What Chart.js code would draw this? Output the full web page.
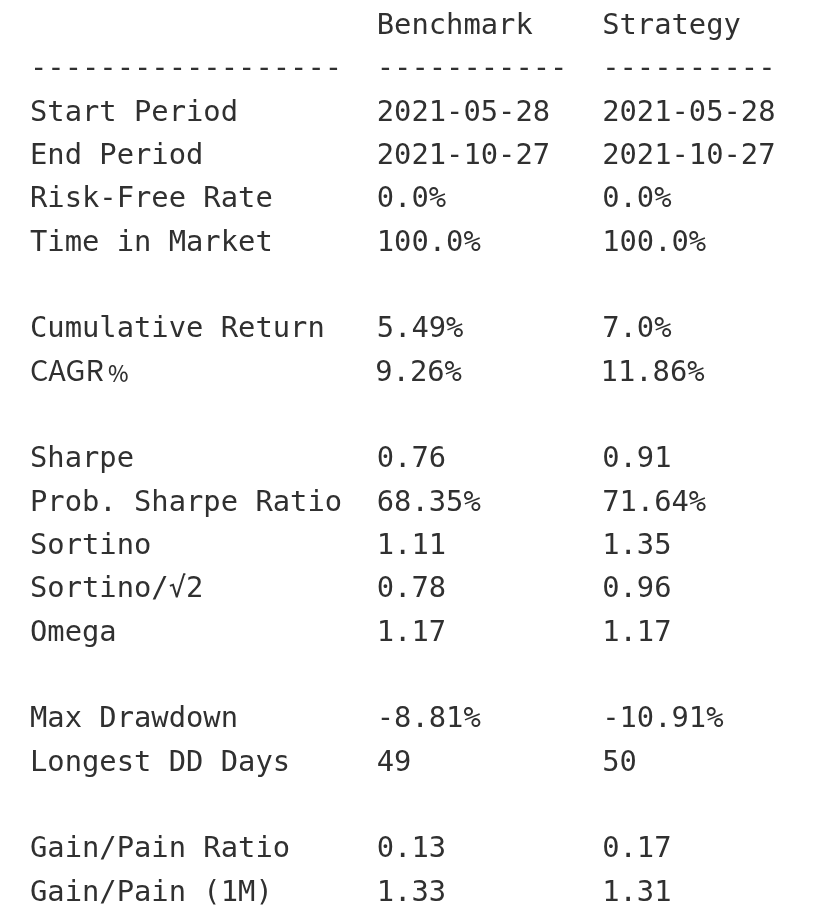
<!DOCTYPE html>
<html>
<head>
<meta charset="utf-8">
<script src="https://cdn.jsdelivr.net/npm/chart.js@4.4.1/dist/chart.umd.min.js"></script>
<style>
  html, body { margin: 0; padding: 0; background: #ffffff; }
  #wrap { width: 816px; height: 914px; position: relative; }
</style>
</head>
<body>
<div id="wrap"><canvas id="c"></canvas></div>
<script>
// ---------------- data ----------------
const columnHeaders = ["", "Benchmark", "Strategy"];
const ruleLengths   = [18, 11, 10];          // dashes under each header
const columnStarts  = [0, 20, 33];           // column start, in characters

const metrics = [
  "Start Period", "End Period", "Risk-Free Rate", "Time in Market", "",
  "Cumulative Return", "CAGR\uFE6A", "",
  "Sharpe", "Prob. Sharpe Ratio", "Sortino", "Sortino/\u221A2", "Omega", "",
  "Max Drawdown", "Longest DD Days", "",
  "Gain/Pain Ratio", "Gain/Pain (1M)"
];
const benchmark = [
  "2021-05-28", "2021-10-27", "0.0%", "100.0%", "",
  "5.49%", "9.26%", "",
  "0.76", "68.35%", "1.11", "0.78", "1.17", "",
  "-8.81%", "49", "",
  "0.13", "1.33"
];
const strategy = [
  "2021-05-28", "2021-10-27", "0.0%", "100.0%", "",
  "7.0%", "11.86%", "",
  "0.91", "71.64%", "1.35", "0.96", "1.17", "",
  "-10.91%", "50", "",
  "0.17", "1.31"
];

// ---------------- styling ----------------
const FONT_SIZE = 28.8;
const MONO = FONT_SIZE + 'px "DejaVu Sans Mono", "Liberation Mono", monospace';
const SANS = FONT_SIZE + 'px "Noto Sans CJK SC", "Noto Sans", sans-serif';
const TEXT_COLOR = '#303030';
const W = 816, H = 914;
const LEFT = 30, TOP_ROW = 23.5, ROW_H = 43.33;

const mctx = document.createElement('canvas').getContext('2d');
mctx.font = MONO;
const charW = mctx.measureText('0').width;

function isWide(ch) { const c = ch.codePointAt(0); return c >= 0x2E80; }
function displayWidth(s) { let w = 0; for (const ch of s) w += isWide(ch) ? 2 : 1; return w; }
function fontFor(s) { for (const ch of s) if (isWide(ch)) return SANS; return MONO; }

const columns = [metrics, benchmark, strategy];
const datasets = columns.map((vals, ci) => {
  const texts = [columnHeaders[ci], '-'.repeat(ruleLengths[ci])].concat(vals);
  return {
    label: columnHeaders[ci] || 'Metric',
    texts: texts,
    data: texts.map((t, ri) => ({ x: columnStarts[ci], y: ri })),
    pointRadius: 0,
    pointHoverRadius: 0,
    showLine: false
  };
});

const tablePlugin = {
  id: 'tableText',
  afterDatasetsDraw(chart) {
    const ctx = chart.ctx;
    ctx.save();
    ctx.fillStyle = TEXT_COLOR;
    ctx.textAlign = 'left';
    ctx.textBaseline = 'alphabetic';
    ctx.font = MONO;
    const capHalf = ctx.measureText('H').actualBoundingBoxAscent / 2;
    const nRows = chart.data.datasets[0].texts.length;
    const shift = new Array(nRows).fill(0);
    chart.data.datasets.forEach((ds, di) => {
      const meta = chart.getDatasetMeta(di);
      meta.data.forEach((pt, ri) => {
        const txt = ds.texts[ri];
        if (!txt) return;
        const f = fontFor(txt);
        ctx.font = f;
        ctx.fillText(txt, pt.x + shift[ri], pt.y + capHalf);
        if (f !== MONO) {
          shift[ri] += ctx.measureText(txt).width - displayWidth(txt) * charW;
        }
      });
    });
    ctx.restore();
  }
};

const xMin = -LEFT / charW;
const yMin = -TOP_ROW / ROW_H;

new Chart(document.getElementById('c'), {
  type: 'scatter',
  data: { datasets: datasets },
  options: {
    responsive: true,
    maintainAspectRatio: false,
    animation: false,
    events: [],
    layout: { padding: 0 },
    plugins: { legend: { display: false }, tooltip: { enabled: false } },
    scales: {
      x: { type: 'linear', display: false, min: xMin, max: xMin + W / charW },
      y: { type: 'linear', display: false, reverse: true, min: yMin, max: yMin + H / ROW_H }
    }
  },
  plugins: [tablePlugin]
});
</script>
</body>
</html>
